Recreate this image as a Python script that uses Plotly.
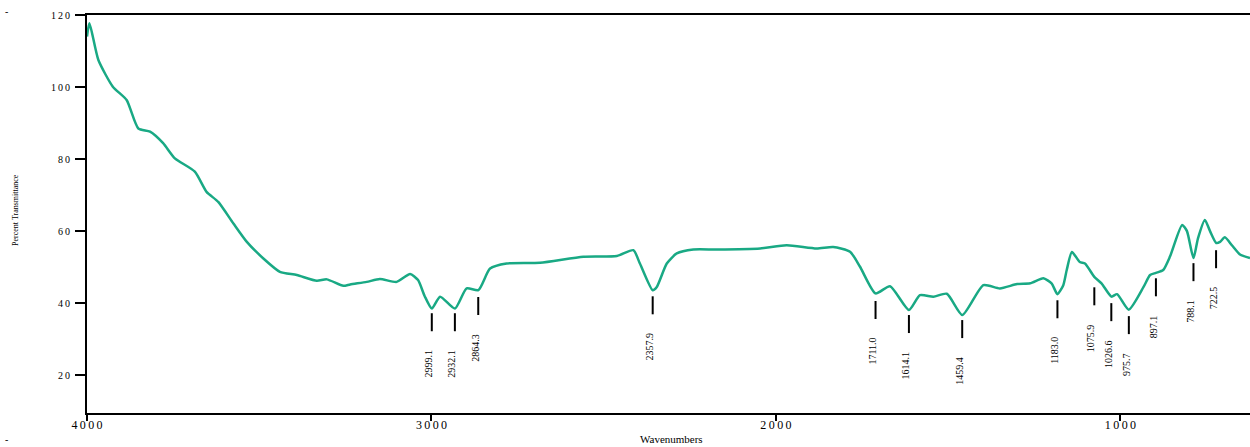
import numpy as np
import plotly.graph_objects as go

# ---- data ----
wavenumber = [4000, 3993, 3967, 3925, 3885, 3851, 3817, 3779, 3745, 3687, 3653, 3619, 3575, 3536,
              3488, 3440, 3391, 3333, 3304, 3256, 3236, 3188, 3150, 3101, 3062, 3039, 3020, 2999,
              2975, 2932, 2898, 2864, 2830, 2782, 2685, 2559, 2462, 2414, 2395, 2358, 2346, 2317,
              2288, 2240, 2172, 2046, 1969, 1882, 1834, 1785, 1756, 1711, 1669, 1614, 1582, 1543,
              1504, 1459, 1398, 1350, 1300, 1262, 1224, 1200, 1183, 1166, 1156, 1141, 1118, 1103,
              1076, 1055, 1026, 1010, 976, 933, 914, 897, 876, 856, 821, 807, 788, 775, 755, 740,
              722, 711, 697, 676, 653, 624]
transmittance = [114.0, 117.7, 107.5, 100.1, 96.4, 88.5, 87.6, 84.4, 80.2, 76.5, 70.9, 68.1, 62.1, 57.0,
                 52.4, 48.7, 47.8, 46.2, 46.6, 44.8, 45.2, 45.9, 46.7, 45.9, 48.1, 46.4, 42.0, 38.5,
                 41.8, 38.5, 44.1, 43.6, 49.6, 51.0, 51.2, 52.9, 53.1, 54.7, 51.0, 43.6, 44.5, 51.0,
                 53.8, 54.9, 54.9, 55.2, 56.1, 55.2, 55.6, 54.3, 50.1, 42.7, 44.7, 38.1, 42.2, 41.8,
                 42.6, 36.7, 45.0, 44.1, 45.3, 45.5, 46.9, 45.5, 42.5, 45.0, 49.2, 54.2, 51.4, 51.0,
                 47.3, 45.5, 41.8, 42.5, 38.2, 44.5, 47.8, 48.4, 49.2, 53.0, 61.7, 60.0, 52.5, 58.0,
                 63.1, 60.0, 56.7, 57.0, 58.3, 56.0, 53.5, 52.5]

peak_positions = [2999.1, 2932.1, 2864.3, 2357.9, 1711.0, 1614.1, 1459.4, 1183.0, 1075.9,
                  1026.6, 975.7, 897.1, 788.1, 722.5]
peak_marker_top = [37.2, 37.2, 41.7, 41.9, 40.6, 36.7, 35.3, 40.8, 44.4, 40.0, 36.4, 46.9, 51.1, 54.7]
peak_labels = ["2999.1", "2932.1", "2864.3", "2357.9", "1711.0", "1614.1", "1459.4", "1183.0",
               "1075.9", "1026.6", "975.7", "897.1", "788.1", "722.5"]

x_ticks = [4000, 3000, 2000, 1000]
y_ticks = [20, 40, 60, 80, 100, 120]

SERIF = "Liberation Serif, Times New Roman, serif"
MARK_LEN = 5.0      # length of peak marker in % units
LABEL_GAP = 4.6     # gap between marker and its label

fig = go.Figure()
fig.add_trace(go.Scatter(
    x=wavenumber, y=transmittance, mode="lines",
    line=dict(color="#19a984", width=2.5, shape="spline", smoothing=0.6),
    hoverinfo="x+y", showlegend=False,
))

shapes = []
annotations = []
for pos, top, lab in zip(peak_positions, peak_marker_top, peak_labels):
    shapes.append(dict(type="line", xref="x", yref="y", x0=pos, x1=pos,
                       y0=top, y1=top - MARK_LEN, line=dict(color="black", width=2)))
    annotations.append(dict(x=pos, y=top - MARK_LEN - LABEL_GAP, xref="x", yref="y",
                            text=lab, textangle=-90, showarrow=False,
                            xanchor="center", yanchor="top", xshift=-3,
                            font=dict(family=SERIF, size=10, color="black")))

annotations += [
    dict(x=-0.062, y=0.51, xref="paper", yref="paper", text="Percent Transmittance",
         textangle=-90, showarrow=False, xanchor="center", yanchor="middle",
         font=dict(family=SERIF, size=8, color="black")),
    dict(x=0.503, y=-0.0845, xref="paper", yref="paper", text="Wavenumbers",
         showarrow=False, xanchor="center", yanchor="bottom",
         font=dict(family=SERIF, size=11, color="black")),
    dict(x=-0.072, y=1.01, xref="paper", yref="paper", text="-", showarrow=False,
         xanchor="left", yanchor="middle", font=dict(family=SERIF, size=10, color="black")),
    dict(x=-0.072, y=-0.066, xref="paper", yref="paper", text="-", showarrow=False,
         xanchor="left", yanchor="middle", font=dict(family=SERIF, size=10, color="black")),
]

def spaced(v):
    return "\u2009".join(str(v))

fig.update_layout(
    width=1250, height=447,
    margin=dict(l=87, r=0, t=15, b=34),
    paper_bgcolor="white", plot_bgcolor="white",
    shapes=shapes, annotations=annotations,
    xaxis=dict(range=[4000, 624], tickvals=x_ticks, ticktext=[spaced(v) for v in x_ticks],
               showgrid=False, zeroline=False, showline=True, linecolor="black", linewidth=2,
               mirror=True, ticks="outside", ticklen=6, tickwidth=2, tickcolor="black",
               ticklabelstandoff=-6,
               tickfont=dict(family=SERIF, size=12, color="black")),
    yaxis=dict(range=[9.5, 120], tickvals=y_ticks, ticktext=[spaced(v) for v in y_ticks],
               showgrid=False, zeroline=False, showline=True, linecolor="black", linewidth=2,
               ticks="outside", ticklen=10, tickwidth=1.5, tickcolor="black",
               ticklabelstandoff=3,
               tickfont=dict(family=SERIF, size=10, color="black")),
)

fig.write_html("out.html", config={"displayModeBar": False},
               post_script="document.body.style.margin='0';document.body.style.overflow='hidden';")
